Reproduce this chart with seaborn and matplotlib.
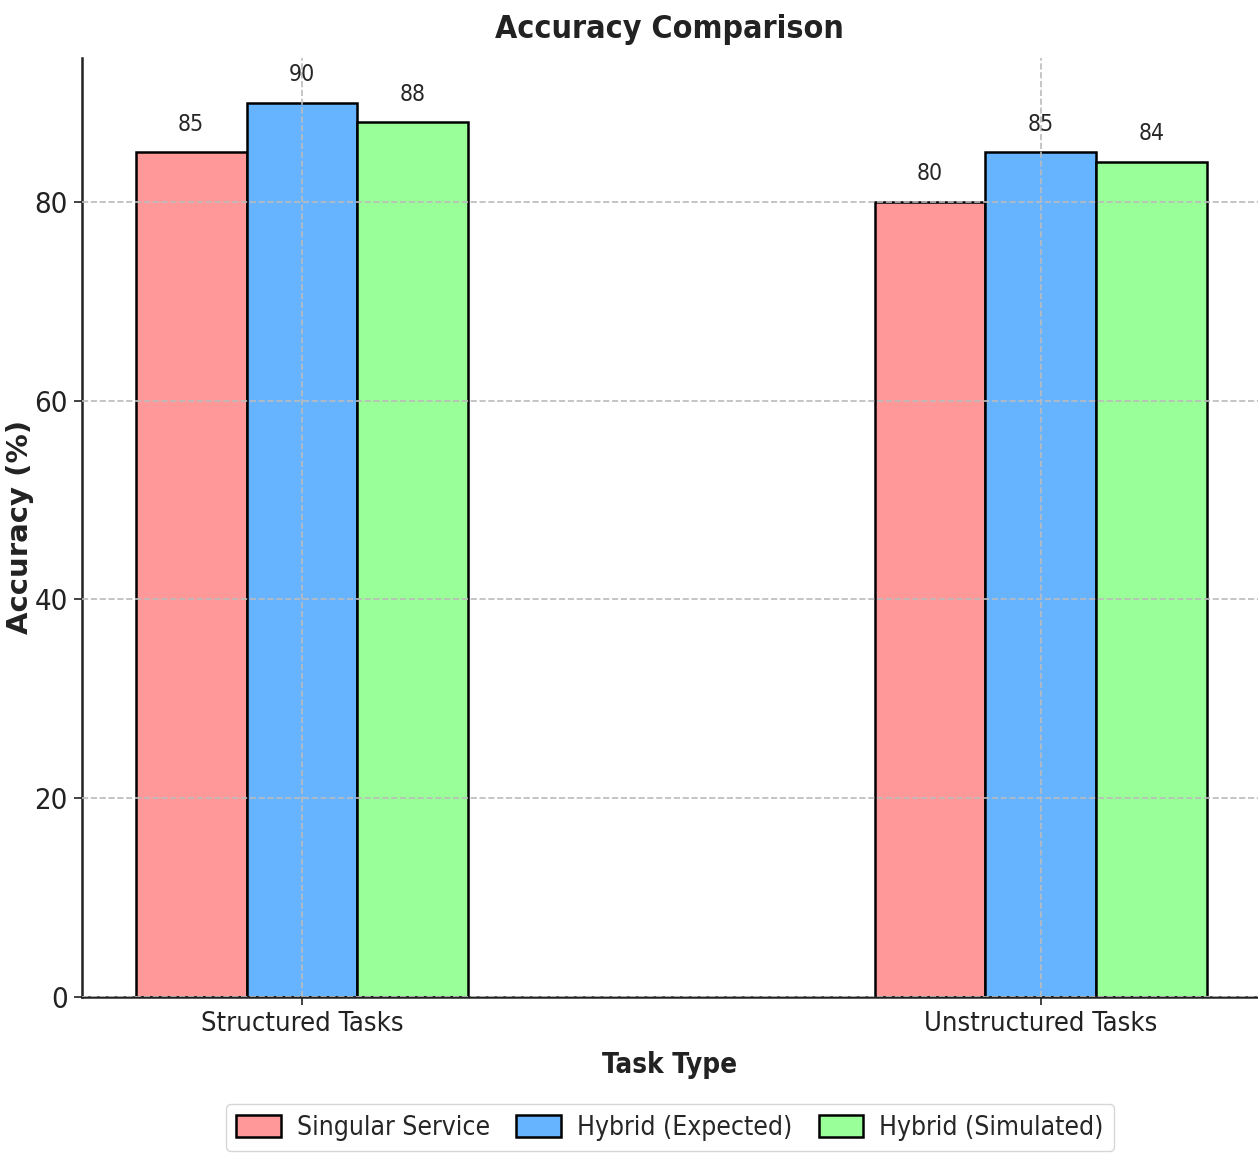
import pandas as pd
import seaborn as sns
import matplotlib.pyplot as plt

# data
tasks = ["Structured Tasks", "Unstructured Tasks"]
methods = ["Singular Service", "Hybrid (Expected)", "Hybrid (Simulated)"]
singular = [85, 80]
hybrid_expected = [90, 85]
hybrid_simulated = [88, 84]
colors = ["#ff9999", "#66b3ff", "#99ff99"]

rows = []
for i, t in enumerate(tasks):
    for m, vals in zip(methods, [singular, hybrid_expected, hybrid_simulated]):
        rows.append({"Task Type": t, "Method": m, "Accuracy": vals[i]})
df = pd.DataFrame(rows)

sns.set_theme(style="white")
plt.rcParams["font.family"] = ["DejaVu Sans"]
plt.rcParams["font.stretch"] = "condensed"

fig, ax = plt.subplots(figsize=(12.58, 11.56), dpi=100)
fig.subplots_adjust(left=0.065, right=1.0, bottom=0.1375, top=0.95)

sns.barplot(data=df, x="Task Type", y="Accuracy", hue="Method",
            hue_order=methods, palette=colors, width=0.45,
            edgecolor="black", linewidth=1.8, saturation=1, ax=ax)

for c in ax.containers:
    ax.bar_label(c, padding=12, fontsize=16.5)

ax.set_xlim(-0.298, 1.294)
ax.set_ylim(0, 94.5)
ax.set_yticks([0, 20, 40, 60, 80])
ax.grid(True, linestyle="--", color="#bbbbbb", linewidth=1.2)
ax.set_axisbelow(False)
for s in ["top", "right"]:
    ax.spines[s].set_visible(False)
for s in ["left", "bottom"]:
    ax.spines[s].set_color("#222222")
    ax.spines[s].set_linewidth(1.8)
ax.tick_params(axis="both", which="both", length=6, width=1.2, color="#222222",
               labelsize=19.5, labelcolor="#222222", bottom=True, left=True, pad=4)
ax.tick_params(axis="y", labelsize=21)

ax.set_title("Accuracy Comparison", fontsize=23, fontweight="bold", color="#222222", pad=14)
ax.set_xlabel("Task Type", fontsize=20, fontweight="bold", color="#222222", labelpad=10)
ax.set_ylabel("Accuracy (%)", fontsize=21, fontweight="bold", color="#222222",
              fontstretch="normal")
ax.yaxis.set_label_coords(-0.041, 0.5)

ax.legend(loc="upper center", bbox_to_anchor=(0.5, -0.1), ncol=3, fontsize=19,
          frameon=True, handlelength=1.7, handleheight=0.9, handletextpad=0.6,
          columnspacing=1.0, borderpad=0.4)

plt.savefig("out.png", dpi=100)
